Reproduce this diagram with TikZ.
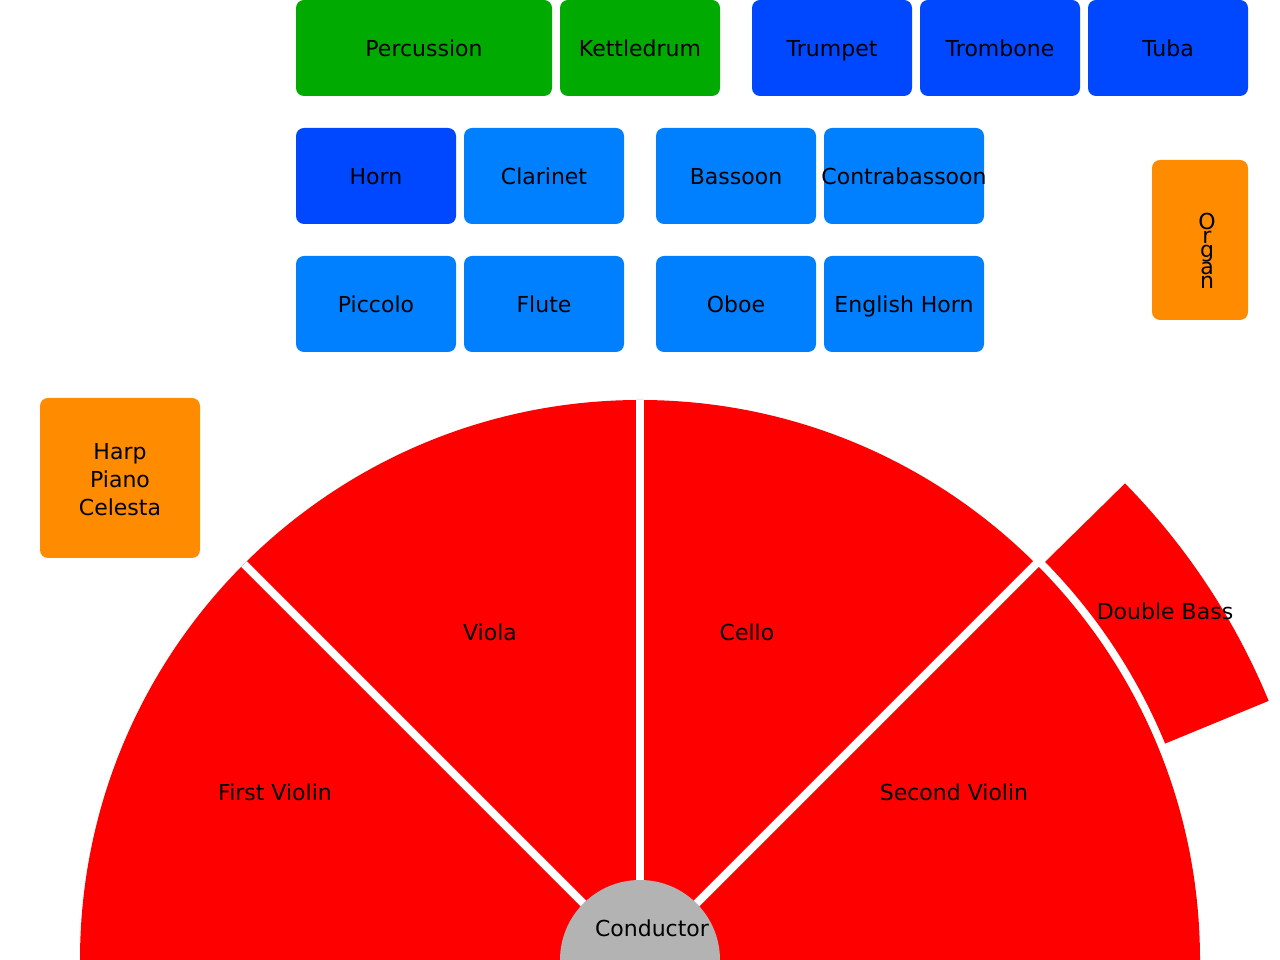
\documentclass[tikz,border=0pt]{standalone}
\usepackage{fontspec}
\setmainfont{DejaVu Sans}
\definecolor{cgreen}{RGB}{0,170,0}
\definecolor{cdblue}{RGB}{0,72,255}
\definecolor{clblue}{RGB}{0,128,255}
\definecolor{corange}{RGB}{255,140,0}
\definecolor{cred}{RGB}{255,0,0}
\definecolor{cgray}{RGB}{179,179,179}
\tikzset{
  lblbase/.style={font=\fontsize{22}{28}\selectfont, text=black, inner sep=0pt},
  lbl/.style={lblbase, text height=18pt, text depth=0pt},
  boxbase/.style={rounded corners=8pt, minimum height=96pt, minimum width=160pt, inner sep=0pt},
  inst/.style={boxbase, lbl},
  sep/.style={white, line width=8pt},
}
\begin{document}
\begin{tikzpicture}[x=1pt,y=1pt]
\useasboundingbox (0,0) rectangle (1280,960);
% top row
\node[inst, fill=cgreen, minimum width=256pt] (perc) at (424,912) {Percussion};
\node[inst, fill=cgreen] (kettle) at (640,912) {Kettledrum};
\node[inst, fill=cdblue] (trumpet) at (832,912) {Trumpet};
\node[inst, fill=cdblue] (trombone) at (1000,912) {Trombone};
\node[inst, fill=cdblue] (tuba) at (1168,912) {Tuba};
% second row
\node[inst, fill=cdblue] (horn) at (376,784) {Horn};
\node[inst, fill=clblue] (clarinet) at (544,784) {Clarinet};
\node[inst, fill=clblue] (bassoon) at (736,784) {Bassoon};
\node[boxbase, fill=clblue] (contra) at (904,784) {};
\node[lbl] (contralbl) at (contra.center) {Contrabassoon};
% third row
\node[inst, fill=clblue] (piccolo) at (376,656) {Piccolo};
\node[inst, fill=clblue] (flute) at (544,656) {Flute};
\node[inst, fill=clblue] (oboe) at (736,656) {Oboe};
\node[inst, fill=clblue] (ehorn) at (904,656) {English Horn};
% organ
\node[boxbase, fill=corange, minimum width=96pt, minimum height=160pt] (organbox) at (1200,720) {};
\node[lblbase, align=center, font=\fontsize{22}{13.75}\selectfont] (organ) at (1207,709) {O\\r\\g\\a\\n};
% harp etc
\node[boxbase, fill=corange, minimum height=160pt] (harp) at (120,482) {};
\node[lblbase, align=center] (harplbl) at (120,480) {Harp\\Piano\\Celesta};
% strings
\begin{scope}[shift={(640,0)}]
  \fill[cred] (-560,0) arc[start angle=180, end angle=0, radius=560] -- cycle;
  \fill[cred] (22.4:568) arc[start angle=22.4, end angle=44.5, radius=568]
     -- (44.5:680) arc[start angle=44.5, end angle=22.4, radius=680] -- cycle;
  \coordinate (c0) at (0,0);
  \coordinate (e45) at (45:700);
  \coordinate (e90) at (90:560);
  \coordinate (e135) at (135:560);
  \draw[sep] (c0) -- (e45);
  \draw[sep] (c0) -- (e90);
  \draw[sep] (c0) -- (e135);
  \fill[cgray] (c0) circle[radius=80];
\end{scope}
\node[lbl] (firstv) at (275,168) {First Violin};
\node[lbl] (viola) at (490,328) {Viola};
\node[lbl] (cello) at (747,328) {Cello};
\node[lbl] (secondv) at (954,168) {Second Violin};
\node[lbl] (dbass) at (1165,349) {Double Bass};
\node[lbl] (conductor) at (652,32) {Conductor};
\end{tikzpicture}
\end{document}
